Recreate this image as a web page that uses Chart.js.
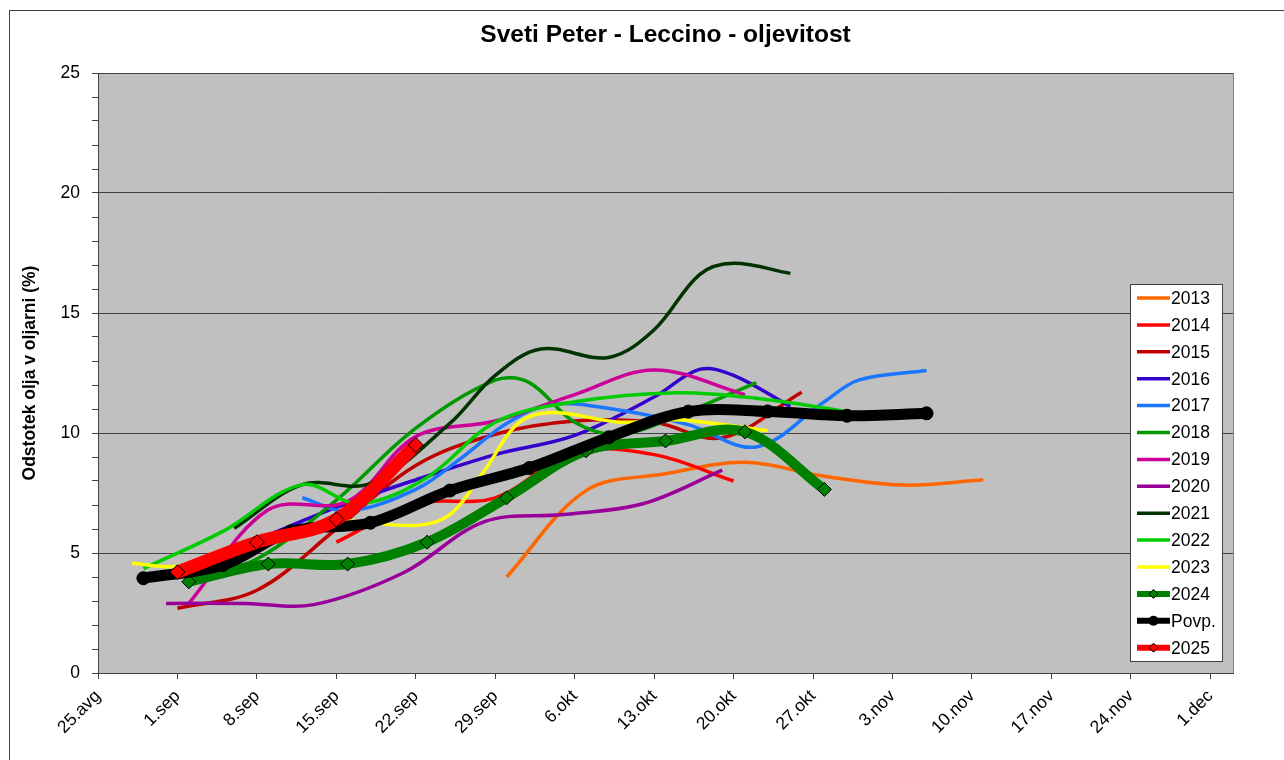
<!DOCTYPE html>
<html><head><meta charset="utf-8">
<script src="https://cdn.jsdelivr.net/npm/chart.js@4.4.1/dist/chart.umd.min.js"></script>
<style>html,body{margin:0;padding:0;background:#fff}canvas{display:block}</style>
</head><body>
<canvas id="c" width="1284" height="760"></canvas>
<script>
// ---- data ----
const chartTitle = 'Sveti Peter - Leccino - oljevitost';
const yTitle = 'Odstotek olja v oljarni (%)';
const xTickLabels = ['25.avg','1.sep','8.sep','15.sep','22.sep','29.sep','6.okt','13.okt','20.okt','27.okt','3.nov','10.nov','17.nov','24.nov','1.dec'];
const seriesNames = ['2013','2014','2015','2016','2017','2018','2019','2020','2021','2022','2023','2024','Povp.','2025'];

const d2013 = ['30.9','7.10','14.10','21.10','28.10','4.11','11.11'];
const v2013 = [4.0, 7.6, 8.3, 8.78, 8.2, 7.83, 8.05];
const d2014 = ['15.9','22.9','29.9','6.10','13.10','20.10'];
const v2014 = [5.45, 7.05, 7.3, 9.2, 9.1, 8.0];
const d2015 = ['1.9','8.9','15.9','22.9','29.9','6.10','13.10','19.10','26.10'];
const v2015 = [2.7, 3.45, 6.0, 8.65, 9.95, 10.5, 10.45, 9.8, 11.7];
const d2016 = ['8.9','15.9','22.9','29.9','6.10','13.10','17.10','20.10','25.10'];
const v2016 = [5.55, 6.9, 8.05, 9.1, 9.9, 11.5, 12.65, 12.4, 11.1];
const d2017 = ['12.9','16.9','22.9','26.9','30.9','4.10','10.10','16.10','22.10','28.10','31.10','6.11'];
const v2017 = [7.3, 6.75, 7.65, 8.95, 10.4, 11.2, 10.95, 10.35, 9.42, 11.3, 12.2, 12.6];
const d2018 = ['3.9','8.9','15.9','22.9','29.9','2.10','6.10','10.10','16.10','22.10'];
const v2018 = [4.1, 4.75, 7.2, 10.2, 12.2, 12.1, 10.45, 9.95, 10.9, 12.1];
const d2019 = ['2.9','9.9','16.9','22.9','29.9','6.10','13.10','21.10'];
const v2019 = [2.9, 6.8, 7.15, 9.85, 10.5, 11.6, 12.63, 11.6];
const d2020 = ['31.8','7.9','13.9','21.9','28.9','5.10','12.10','19.10'];
const v2020 = [2.9, 2.9, 2.85, 4.2, 6.3, 6.6, 7.05, 8.45];
const d2021 = ['6.9','12.9','18.9','25.9','29.9','3.10','9.10','13.10','17.10','20.10','25.10'];
const v2021 = [6.03, 7.85, 7.9, 10.4, 12.4, 13.5, 13.15, 14.3, 16.6, 17.07, 16.65];
const d2022 = ['29.8','5.9','12.9','17.9','23.9','29.9','6.10','15.10','22.10','30.10'];
const v2022 = [4.35, 5.9, 7.85, 7.05, 8.15, 10.45, 11.3, 11.68, 11.45, 10.9];
const d2023 = ['28.8','1.9','8.9','15.9','22.9','25.9','28.9','1.10','4.10','10.10','15.10','23.10'];
const v2023 = [4.57, 4.45, 5.4, 6.3, 6.15, 6.6, 8.4, 10.4, 10.85, 10.45, 10.55, 10.1];
const d2024 = ['2.9','9.9','16.9','23.9','30.9','7.10','14.10','21.10','28.10'];
const v2024 = [3.80, 4.54, 4.54, 5.45, 7.30, 9.26, 9.67, 10.05, 7.65];
const dPovp = ['29.8','5.9','11.9','18.9','25.9','2.10','9.10','16.10','23.10','30.10','6.11'];
const vPovp = [3.95, 4.5, 5.9, 6.26, 7.6, 8.54, 9.82, 10.89, 10.9, 10.72, 10.82];
const d2025 = ['1.9','8.9','15.9','22.9'];
const v2025 = [4.2, 5.45, 6.4, 9.5];

// ---- helpers ----
function dayOf(s){ const p = s.split('.').map(Number); return Math.round((Date.UTC(2001,p[1]-1,p[0]) - Date.UTC(2001,7,25)) / 864e5); }
function pts(ds, vs){ return ds.map((d,i)=>({x: dayOf(d), y: vs[i]})); }

const FONT = '"Liberation Sans", Arial, sans-serif';
const FS = 17.5;
const allDates = [d2013,d2014,d2015,d2016,d2017,d2018,d2019,d2020,d2021,d2022,d2023,d2024,dPovp,d2025];
const allVals  = [v2013,v2014,v2015,v2016,v2017,v2018,v2019,v2020,v2021,v2022,v2023,v2024,vPovp,v2025];
const colors = ['#FF6600','#FF0000','#C00000','#3300CC','#1A75FF','#009900','#CC0099','#990099','#003300','#00CC00','#FFFF00','#008000','#000000','#FF0000'];

const datasets = seriesNames.map((name,i)=>{
  const base = {
    label: name, data: pts(allDates[i], allVals[i]),
    borderColor: colors[i], backgroundColor: colors[i],
    borderWidth: 3.5, pointRadius: 0, pointHoverRadius: 0, tension: 0.35,
    fill: false, order: seriesNames.length - i,
    legendWidth: 3.5, legendMarker: null
  };
  if (name === '2024') Object.assign(base, {borderWidth: 10, pointStyle: 'rectRot', pointRadius: 7, pointBackgroundColor: '#008000', pointBorderColor: '#000', pointBorderWidth: 1, legendWidth: 6, legendMarker: 'diamond'});
  if (name === 'Povp.') Object.assign(base, {borderWidth: 11, pointStyle: 'circle', pointRadius: 6.5, pointBackgroundColor: '#000', pointBorderColor: '#000', pointBorderWidth: 1, legendWidth: 6, legendMarker: 'circle'});
  if (name === '2025') Object.assign(base, {borderWidth: 13, pointStyle: 'rectRot', pointRadius: 7.5, pointBackgroundColor: '#FF0000', pointBorderColor: '#000', pointBorderWidth: 1, legendWidth: 6, legendMarker: 'diamond'});
  return base;
});

const decor = {
  id: 'decor',
  beforeDraw(chart){
    const {ctx, chartArea: a} = chart;
    ctx.save();
    ctx.fillStyle = '#fff'; ctx.fillRect(0,0,chart.width,chart.height);
    ctx.strokeStyle = '#404040'; ctx.lineWidth = 1;
    ctx.strokeRect(9.5, 10.5, 1400, 900);
    ctx.fillStyle = '#C0C0C0';
    ctx.fillRect(a.left, a.top, a.right-a.left, a.bottom-a.top);
    ctx.strokeStyle = '#808080';
    ctx.strokeRect(Math.round(a.left)+0.5, Math.round(a.top)+0.5, Math.round(a.right-a.left), Math.round(a.bottom-a.top));
    ctx.fillStyle = '#000';
    ctx.font = 'bold 24.5px ' + FONT;
    ctx.textAlign = 'center'; ctx.textBaseline = 'middle';
    ctx.fillText(chartTitle, (a.left+a.right)/2, 35);
    ctx.restore();
  },
  afterDraw(chart){
    const {ctx} = chart;
    const bx = 1130.5, by = 284.5, bw = 92, bh = 377, step = 26.9, y0 = 298;
    ctx.save();
    ctx.fillStyle = '#fff'; ctx.fillRect(bx, by, bw, bh);
    ctx.strokeStyle = '#404040'; ctx.lineWidth = 1; ctx.strokeRect(bx, by, bw, bh);
    chart.data.datasets.forEach((ds,i)=>{
      const y = y0 + i*step;
      ctx.strokeStyle = ds.borderColor; ctx.lineWidth = ds.legendWidth; ctx.lineCap = 'butt';
      ctx.beginPath(); ctx.moveTo(1137, y); ctx.lineTo(1170, y); ctx.stroke();
      if (ds.legendMarker === 'diamond') {
        ctx.fillStyle = ds.pointBackgroundColor; ctx.strokeStyle = '#000'; ctx.lineWidth = 1;
        ctx.beginPath(); ctx.moveTo(1153.5, y-4.5); ctx.lineTo(1158, y); ctx.lineTo(1153.5, y+4.5); ctx.lineTo(1149, y); ctx.closePath(); ctx.fill(); ctx.stroke();
      } else if (ds.legendMarker === 'circle') {
        ctx.fillStyle = '#000'; ctx.beginPath(); ctx.arc(1153.5, y, 5, 0, Math.PI*2); ctx.fill();
      }
      ctx.fillStyle = '#000'; ctx.font = FS + 'px ' + FONT; ctx.textAlign = 'left'; ctx.textBaseline = 'middle';
      ctx.fillText(ds.label, 1171, y + 1);
    });
    ctx.restore();
  }
};

new Chart(document.getElementById('c'), {
  type: 'line',
  data: { datasets },
  plugins: [decor],
  options: {
    responsive: false, animation: false, events: [],
    layout: { padding: { left: 10, right: 51, top: 73, bottom: 0 } },
    plugins: { legend: { display: false }, title: { display: false }, tooltip: { enabled: false } },
    scales: {
      x: {
        type: 'linear', min: 0, max: 100,
        afterFit(s){ s.height = 87; },
        border: { display: true, color: '#404040', width: 1 },
        grid: { drawOnChartArea: false, drawTicks: true, tickLength: 6, tickColor: '#404040' },
        ticks: { stepSize: 7, includeBounds: false, autoSkip: false, maxRotation: 45, minRotation: 45, padding: 7,
          color: '#000', font: { family: FONT, size: FS },
          callback: v => { const k = Math.round(v/7); return (Math.abs(v - k*7) < 1e-6 && xTickLabels[k]) ? xTickLabels[k] : ''; } }
      },
      y: {
        min: 0, max: 25,
        afterFit(s){ s.width = 88; },
        border: { display: true, color: '#404040', width: 1 },
        grid: { drawTicks: true, tickLength: 6, tickColor: '#404040',
          color: c => (c.tick && c.tick.value % 5 === 0 && c.tick.value > 0) ? '#404040' : 'rgba(0,0,0,0)' },
        ticks: { stepSize: 1, autoSkip: false, padding: 12, color: '#000', font: { family: FONT, size: FS },
          callback: v => (v % 5 === 0 ? String(v) : '') },
        title: { display: true, text: yTitle, color: '#000', font: { family: FONT, size: FS, weight: 'bold' }, padding: { top: 10, bottom: 0 } }
      }
    }
  }
});
</script>
</body></html>
